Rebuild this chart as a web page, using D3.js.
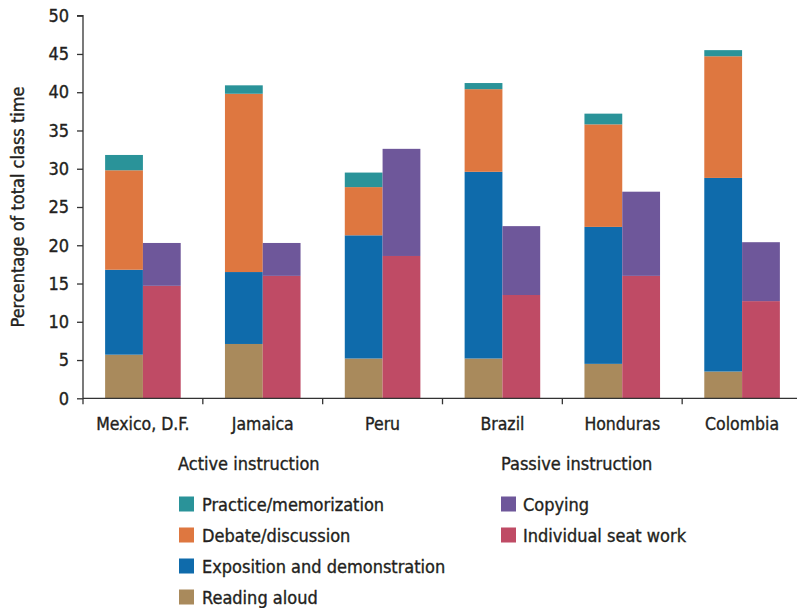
<!DOCTYPE html>
<html><head><meta charset="utf-8">
<script src="https://cdn.jsdelivr.net/npm/d3@7"></script>
<style>
body{margin:0;background:#fff;}
text{font-family:"Liberation Sans Narrow","DejaVu Sans Condensed","Roboto Condensed",sans-serif;fill:#231f20;stroke:#231f20;stroke-width:0.35px;}
</style></head><body>
<svg id="chart" width="797" height="608"></svg>
<script>
const countries = ["Mexico, D.F.","Jamaica","Peru","Brazil","Honduras","Colombia"];
const readingAloud = [5.7, 7.1, 5.2, 5.2, 4.5, 3.5];
const exposition   = [11.1, 9.4, 16.1, 24.4, 17.9, 25.3];
const debate       = [13.0, 23.3, 6.3, 10.8, 13.4, 15.9];
const practice     = [2.0, 1.1, 1.9, 0.8, 1.4, 0.8];
const seatWork     = [14.7, 16.0, 18.6, 13.5, 16.0, 12.7];
const copying      = [5.6, 4.3, 14.0, 9.0, 11.0, 7.7];
const yTicks = [0,5,10,15,20,25,30,35,40,45,50];

const activeSeries = [
  {name:"Reading aloud", values:readingAloud, color:"#a98a5c"},
  {name:"Exposition and demonstration", values:exposition, color:"#0f6bab"},
  {name:"Debate/discussion", values:debate, color:"#de7740"},
  {name:"Practice/memorization", values:practice, color:"#2a9399"}
];
const passiveSeries = [
  {name:"Individual seat work", values:seatWork, color:"#bf4b65"},
  {name:"Copying", values:copying, color:"#6e579a"}
];

const svg = d3.select("#chart");
const x0 = 83, x1 = 802, yTop = 15.7, yBot = 398.3;
const x = d3.scaleBand().domain(countries).range([x0, x1]).paddingInner(0).paddingOuter(0);
const y = d3.scaleLinear().domain([0,50]).range([yBot, yTop]);
const barW = 37.8;

function drawStack(series, offset){
  countries.forEach((c,i)=>{
    let base = 0;
    series.forEach(s=>{
      const v = s.values[i];
      const cx = x(c) + x.bandwidth()/2;
      svg.append("rect")
        .attr("x", cx + offset)
        .attr("width", barW)
        .attr("y", y(base+v))
        .attr("height", y(base)-y(base+v))
        .attr("fill", s.color);
      base += v;
    });
  });
}
drawStack(activeSeries, -barW);
drawStack(passiveSeries, 0);

// Y axis
const yAxis = d3.axisLeft(y).tickValues(yTicks).tickSize(6).tickPadding(8);
const gy = svg.append("g").attr("transform",`translate(${x0},0)`).call(yAxis);
gy.select(".domain").attr("stroke","#333").attr("stroke-width",1.3).attr("d",`M-6,${yTop}H0V${yBot}`);
gy.selectAll(".tick line").attr("stroke","#333").attr("stroke-width",1.3);
gy.selectAll(".tick text").attr("font-size",18).style("font-family",'"Liberation Sans Narrow","DejaVu Sans Condensed",sans-serif').attr("fill","#231f20");

// X axis
const xAxis = d3.axisBottom(x).tickSize(0).tickPadding(0);
const gx = svg.append("g").attr("transform",`translate(0,${yBot})`).call(xAxis);
gx.select(".domain").attr("stroke","#333").attr("stroke-width",1.3).attr("d",`M${x0},0H${x1}`);
gx.selectAll(".tick text").attr("font-size",17.5).attr("dy",0).attr("y",32).attr("fill","#231f20")
  .style("font-family",'"Liberation Sans Narrow","DejaVu Sans Condensed",sans-serif');
// boundary ticks
const bounds = countries.map(c=>x(c)).concat([x1]);
svg.append("g").selectAll("line").data(bounds).join("line")
  .attr("x1",d=>d).attr("x2",d=>d).attr("y1",yBot).attr("y2",yBot+6)
  .attr("stroke","#333").attr("stroke-width",1.3);

// Y title
svg.append("text").attr("transform","translate(24,207) rotate(-90)")
  .attr("text-anchor","middle").attr("font-size",18).text("Percentage of total class time");

// Legend
const legActive = activeSeries.slice().reverse();
const legPassive = passiveSeries.slice().reverse();
svg.append("text").attr("x",178).attr("y",470).attr("font-size",18).text("Active instruction");
svg.append("text").attr("x",501).attr("y",470).attr("font-size",18).text("Passive instruction");
function legend(items, sx, tx){
  items.forEach((s,i)=>{
    const cy = 504 + i*31;
    svg.append("rect").attr("x",sx).attr("y",cy-7.5).attr("width",15).attr("height",15).attr("fill",s.color);
    svg.append("text").attr("x",tx).attr("y",cy+6.5).attr("font-size",18).text(s.name);
  });
}
legend(legActive, 179, 202);
legend(legPassive, 501, 523);
</script>
</body></html>
